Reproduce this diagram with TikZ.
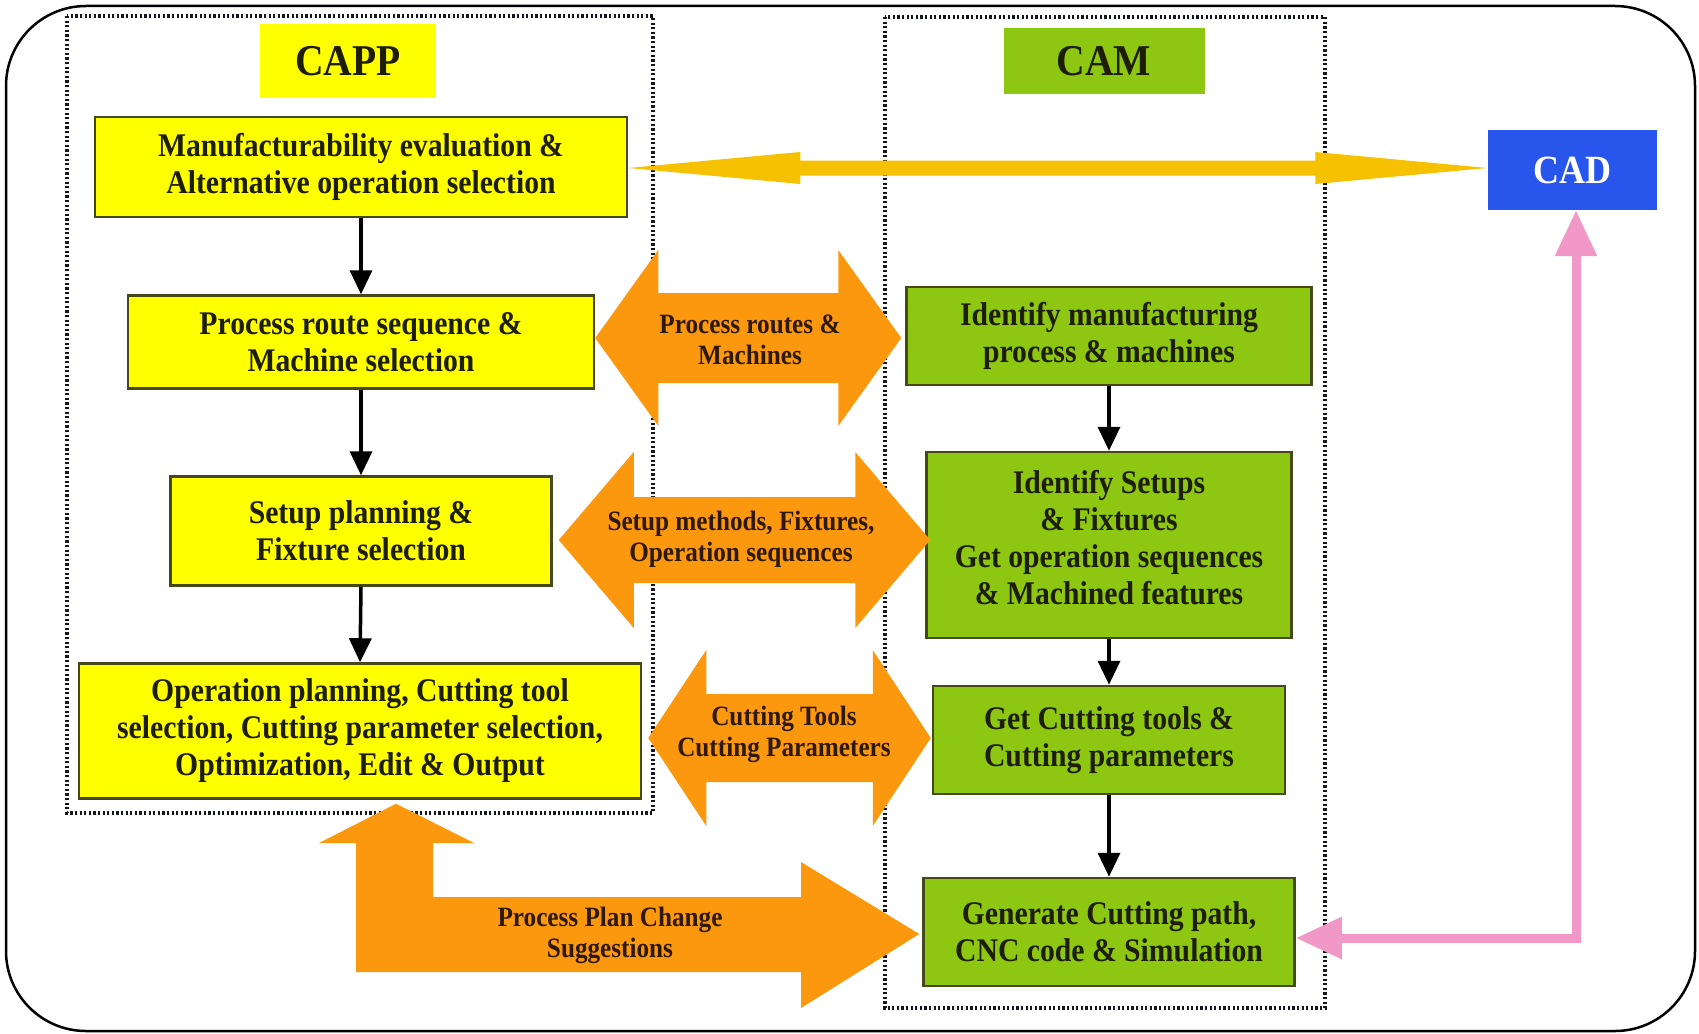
\documentclass[tikz,border=0pt]{standalone}
\usepackage{fontspec}
\setmainfont{Liberation Serif}[FakeStretch=0.9]
\usetikzlibrary{arrows.meta,calc}

\definecolor{capyellow}{RGB}{255,255,0}
\definecolor{camgreen}{RGB}{142,199,18}
\definecolor{boxline}{RGB}{70,72,25}
\definecolor{inkdark}{RGB}{30,30,5}
\definecolor{labelink}{RGB}{45,25,5}
\definecolor{bandorange}{RGB}{252,152,14}
\definecolor{linkgold}{RGB}{246,194,0}
\definecolor{cadblue}{RGB}{40,86,236}
\definecolor{returnpink}{RGB}{241,152,200}
\definecolor{framegray}{RGB}{20,20,30}

\newcommand\cpBox{\fontsize{33}{37}\selectfont\bfseries}
\newcommand\cpLabel{\fontsize{28}{31}\selectfont\bfseries}
\newcommand\cpTitle{\fontsize{44}{48}\selectfont\bfseries}

% double-headed block arrow between two tips
% #1 left tip, #2 right tip, #3 centre y, #4 shaft half height,
% #5 head half height, #6 head length, #7 fill style
\newcommand\twinband[7]{%
  \fill[#7] let \p1=#1, \p2=#2 in
    (\x1,#3) -- (\x1+#6,#3-#5) -- (\x1+#6,#3-#4) -- (\x2-#6,#3-#4)
    -- (\x2-#6,#3-#5) -- (\x2,#3) -- (\x2-#6,#3+#5) -- (\x2-#6,#3+#4)
    -- (\x1+#6,#3+#4) -- (\x1+#6,#3+#5) -- cycle;}

\begin{document}
\begin{tikzpicture}[x=1pt,y=-1pt,
  box/.style={draw=boxline,line width=2.5pt,inner sep=0pt,align=center,
              font=\cpBox,text=inkdark},
  ybox/.style={box,fill=capyellow},
  gbox/.style={box,fill=camgreen},
  title/.style={inner sep=0pt,font=\cpTitle,text=inkdark},
  flow/.style={line width=3.5pt,draw=black,-{Triangle[width=22pt,length=24pt]}},
  bandfill/.style={fill=bandorange},
  goldfill/.style={fill=linkgold},
  bandlabel/.style={inner sep=0pt,align=center,font=\cpLabel,text=labelink},
  groupframe/.style={draw=framegray,line width=3.5pt,dash pattern=on 2.2pt off 2.4pt},
  returnlink/.style={draw=returnpink,line width=9pt,
     {Triangle[width=40pt,length=46pt]}-{Triangle[width=40pt,length=46pt]}}]

\useasboundingbox (0,0) rectangle (1699,1033);
\fill[white] (0,0) rectangle (1699,1033);

% outer rounded frame
\draw[line width=2.5pt,rounded corners=80pt] (6,6) rectangle (1695,1031);

% dotted group frames
\draw[groupframe] (67,16) rectangle (653,813);
\draw[groupframe] (885,17) rectangle (1325,1008);

% group titles
\node[title,fill=capyellow,minimum width=176pt,minimum height=74pt] (capp) at (348,61) {CAPP};
\node[title,fill=camgreen,minimum width=201pt,minimum height=65pt] (cam) at (1104,61) {CAM};
\node[title,fill=cadblue,text=white,font=\fontsize{40}{44}\selectfont\bfseries,
      minimum width=169pt,minimum height=80pt] (cad) at (1572,170) {CAD};

% CAPP column
\node[ybox,minimum width=532pt,minimum height=100pt] (mfg) at (361,167)
  {Manufacturability evaluation \&\\Alternative operation selection};
\node[ybox,minimum width=466pt,minimum height=93pt] (route) at (361,342)
  {Process route sequence \&\\Machine selection};
\node[ybox,minimum width=381pt,minimum height=109pt] (setup) at (361,531)
  {Setup planning \&\\Fixture selection};
\node[ybox,minimum width=562pt,minimum height=135pt] (oper) at (360,731)
  {Operation planning, Cutting tool\\selection, Cutting parameter selection,\\Optimization, Edit \& Output};

% CAM column
\node[gbox,minimum width=405pt,minimum height=98pt] (ident) at (1109,336)
  {Identify manufacturing\\process \& machines};
\node[gbox,minimum width=365pt,minimum height=186pt] (fixt) at (1109,545)
  {Identify Setups\\\& Fixtures\\Get operation sequences\\\& Machined features\\[-22pt]};
\node[gbox,minimum width=352pt,minimum height=108pt] (tools) at (1109,740)
  {Get Cutting tools \&\\Cutting parameters};
\node[gbox,minimum width=371pt,minimum height=108pt] (path) at (1109,932)
  {Generate Cutting path,\\CNC code \& Simulation};

% sequence arrows
\draw[flow] (mfg.south) -- (route.north);
\draw[flow] (route.south) -- (setup.north);
\draw[flow] (setup.south) -- (oper.north);
\draw[flow] (ident.south) -- (fixt.north);
\draw[flow] (fixt.south) -- (tools.north);
\draw[flow] (tools.south) -- (path.north);

% CAD link
\twinband{(mfg.east)}{(cad.west)}{168}{7.5}{16}{172}{goldfill}

% information exchange between CAPP and CAM
\twinband{(route.east)}{($(ident.west)+(-4,0)$)}{338}{45}{88}{63}{bandfill}
\node[bandlabel] (lroute) at (750,340) {Process routes \&\\Machines};

\twinband{($(setup.east)+(6,0)$)}{($(fixt.west)+(5,0)$)}{540}{43}{88}{75}{bandfill}
\node[bandlabel] (lsetup) at (741,539) {Setup methods, Fixtures,\\Operation sequences};

\twinband{($(oper.east)+(6,0)$)}{($(tools.west)+(-1,0)$)}{738}{44}{88}{58}{bandfill}
\node[bandlabel] (ltools) at (784,734) {Cutting Tools\\Cutting Parameters};

% process plan change feedback
\fill[bandfill] let \p1=(oper.south), \p2=(path.west) in
  (356,972) -- (356,843) -- (319,843) -- (396,\y1-4pt) -- (474,843)
  -- (433,843) -- (433,897) -- (801,897) -- (801,862) -- (\x2-3pt,934)
  -- (801,1008) -- (801,972) -- cycle;
\node[bandlabel] (lchange) at (610,935) {Process Plan Change\\Suggestions};

% return link to CAD
\draw[returnlink] ([xshift=4pt]cad.south) |- ([yshift=-6pt]path.east);

\end{tikzpicture}
\end{document}
